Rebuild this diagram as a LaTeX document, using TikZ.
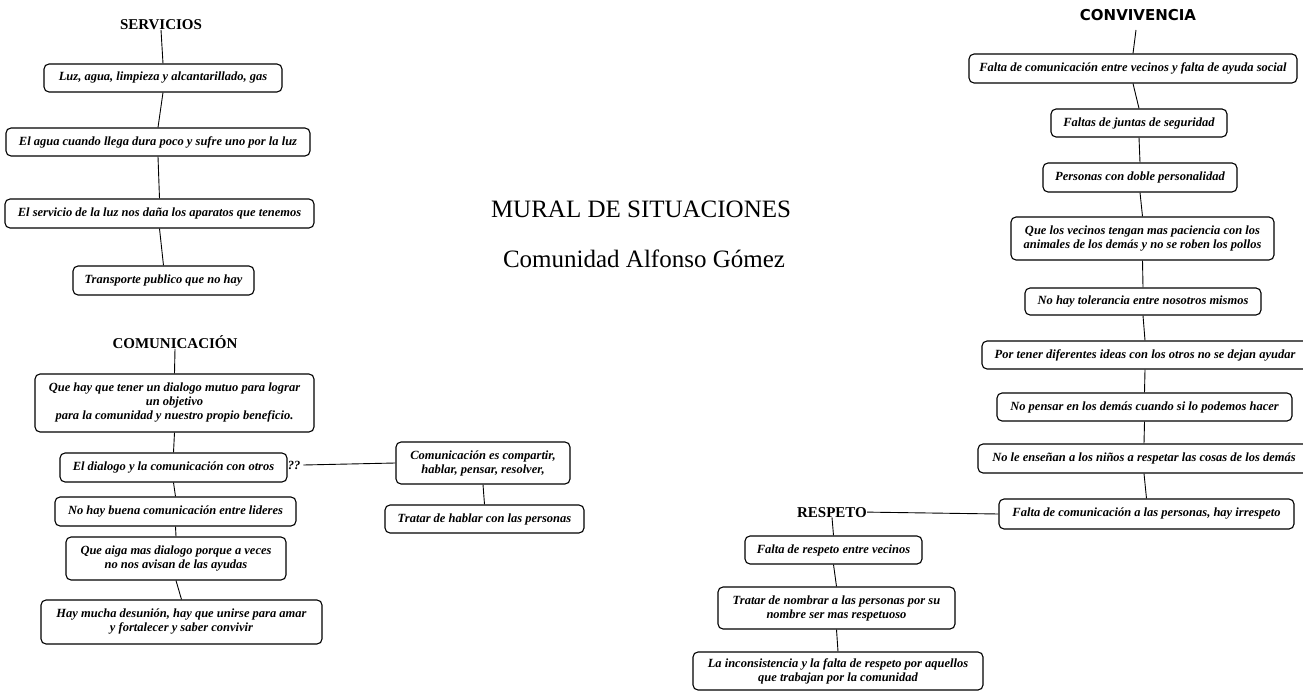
\documentclass[tikz,border=0pt]{standalone}
\usepackage{fontspec}
\setmainfont{Liberation Serif}
\newfontfamily\convfont{DejaVu Sans}
\begin{document}
\begin{tikzpicture}[x=1pt,y=-1pt,
  box/.style 2 args={draw, rounded corners=5pt, line width=1.1pt, inner sep=0pt,
    align=center, minimum width=#1, minimum height=#2,
    font=\fontsize{12.5}{14}\selectfont\bfseries\itshape},
  qmark/.style={inner sep=0pt, font=\fontsize{12.5}{14}\selectfont\bfseries\itshape},
  head/.style={inner sep=0pt, anchor=base, font=\fontsize{15}{18}\selectfont\bfseries},
  title/.style={inner sep=0pt, anchor=base, font=\fontsize{25}{30}\selectfont},
  link/.style={line width=0.9pt}]
\useasboundingbox (0,0) rectangle (1303,692);
\clip (0,0) rectangle (1303,692);

% ---- titles
\node[title] (mural) at (641,218) {MURAL DE SITUACIONES};
\node[title] (comunidad) at (644,268) {Comunidad Alfonso Gómez};

% ---- SERVICIOS
\node[head] (serv) at (161,29.5) {SERVICIOS};
\node[box={238pt}{28pt}] (s1) at (163,78) {Luz, agua, limpieza y alcantarillado, gas};
\node[box={304pt}{28pt}] (s2) at (158,142) {El agua cuando llega dura poco y sufre uno por la luz};
\node[box={309pt}{29pt}] (s3) at (159.5,213.5) {El servicio de la luz nos daña los aparatos que tenemos};
\node[box={181pt}{29pt}] (s4) at (163.5,280.5) {Transporte publico que no hay};
\draw[link] (serv.south) -- (s1.north);
\draw[link] (s1.south) -- (s2.north);
\draw[link] (s2.south) -- (s3.north);
\draw[link] (s3.south) -- (s4.north);

% ---- COMUNICACION
\node[head] (comm) at (175,348.5) {COMUNICACIÓN};
\node[box={279pt}{58pt}] (c1) at (174.5,403) {Que hay que tener un dialogo mutuo para lograr\\un objetivo\\para la comunidad y nuestro propio beneficio.};
\node[box={227pt}{29pt}] (c2) at (173.5,467.5) {El dialogo y la comunicación con otros};
\node[qmark] (qq) at (294,465) {??};
\node[box={241pt}{29pt}] (c3) at (175.5,511.5) {No hay buena comunicación entre lideres};
\node[box={220pt}{43pt}] (c4) at (176,558.5) {Que aiga mas dialogo porque a veces\\no nos avisan de las ayudas};
\node[box={281pt}{44pt}] (c6) at (181.5,622) {Hay mucha desunión, hay que unirse para amar\\y fortalecer y saber convivir};
\node[box={174pt}{42pt}] (c5) at (483,463) {Comunicación es compartir,\\hablar, pensar, resolver,};
\node[box={199pt}{28pt}] (c7) at (484.5,519) {Tratar de hablar con las personas};
\draw[link] (comm.south) -- (c1.north);
\draw[link] (c1.south) -- (c2.north);
\draw[link] (c2.south) -- (c3.north);
\draw[link] (c3.south) -- (c4.north);
\draw[link] (c4.south) -- (c6.north);
\draw[link] ([xshift=3pt]qq.east) -- (c5.west);
\draw[link] (c5.south) -- (c7.north);

% ---- CONVIVENCIA
\node[inner sep=0pt, anchor=base, font=\convfont\fontsize{15}{18}\selectfont\bfseries] (conv) at (1138,21) {CONVIVENCIA};
\coordinate (convtail) at (1136,30);
\node[box={328pt}{29pt}] (k1) at (1133,68.5) {Falta de comunicación entre vecinos y falta de ayuda social};
\node[box={176pt}{28pt}] (k2) at (1139,123) {Faltas de juntas de seguridad};
\node[box={194pt}{29pt}] (k3) at (1140,177.5) {Personas con doble personalidad};
\node[box={263pt}{43pt}] (k4) at (1142.5,238.5) {Que los vecinos tengan mas paciencia con los\\animales de los demás y no se roben los pollos};
\node[box={236pt}{27pt}] (k5) at (1143,301.5) {No hay tolerancia entre nosotros mismos};
\node[box={326pt}{28pt}] (k6) at (1145,355) {Por tener diferentes ideas con los otros no se dejan ayudar};
\node[box={295pt}{28pt}] (k7) at (1144.5,407) {No pensar en los demás cuando si lo podemos hacer};
\node[box={332pt}{29pt}] (k8) at (1144,458.5) {No le enseñan a los niños a respetar las cosas de los demás};
\node[box={295pt}{30pt}] (k9) at (1146.5,514) {Falta de comunicación a las personas, hay irrespeto};
\draw[link] (convtail) -- (k1.north);
\draw[link] (k1.south) -- (k2.north);
\draw[link] (k2.south) -- (k3.north);
\draw[link] (k3.south) -- (k4.north);
\draw[link] (k4.south) -- (k5.north);
\draw[link] (k5.south) -- (k6.north);
\draw[link] (k6.south) -- (k7.north);
\draw[link] (k7.south) -- (k8.north);
\draw[link] (k8.south) -- (k9.north);

% ---- RESPETO
\node[head] (resp) at (832,517) {RESPETO};
\node[box={177pt}{28pt}] (r1) at (833.5,550) {Falta de respeto entre vecinos};
\node[box={237pt}{42pt}] (r2) at (836.5,608) {Tratar de nombrar a las personas por su\\nombre ser mas respetuoso};
\node[box={290pt}{38pt}] (r3) at (838,671) {La inconsistencia y la falta de respeto por aquellos\\que trabajan por la comunidad};
\draw[link] (resp.east) -- (k9.west);
\draw[link] (resp.south) -- (r1.north);
\draw[link] (r1.south) -- (r2.north);
\draw[link] (r2.south) -- (r3.north);
\end{tikzpicture}
\end{document}
